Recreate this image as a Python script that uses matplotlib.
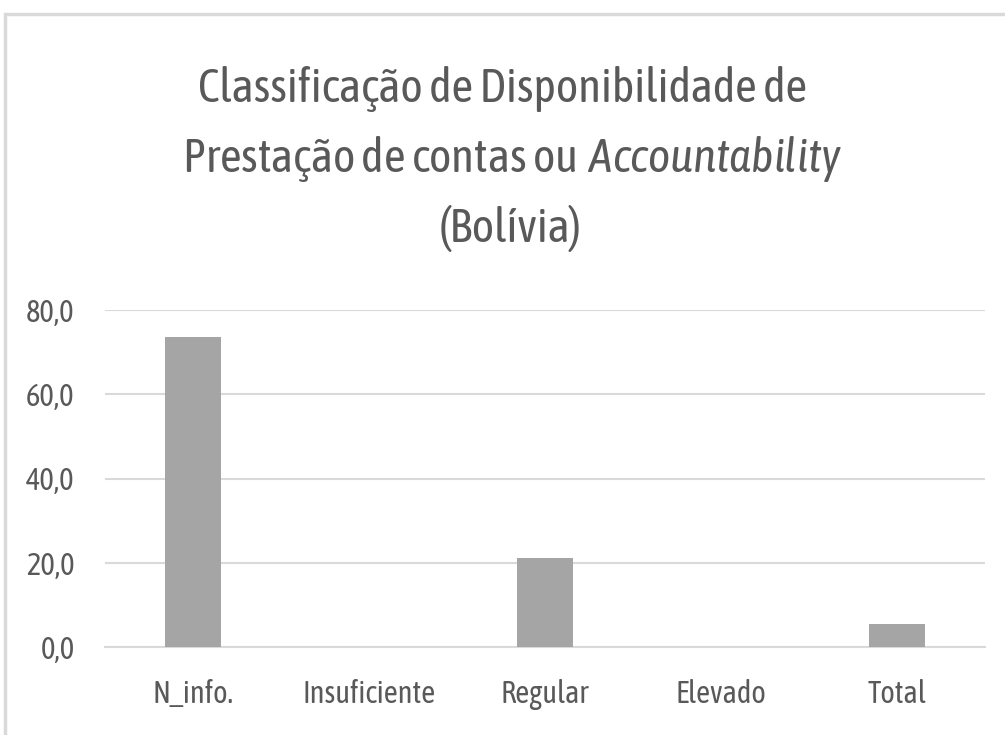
import matplotlib.pyplot as plt
from matplotlib.patches import Rectangle

# DATA
categorias = ["N_info.", "Insuficiente", "Regular", "Elevado", "Total"]
valores = [73.7, 0.0, 21.1, 0.0, 5.5]
yticks = [0, 20, 40, 60, 80]

# STYLE
fonte = "Asap Condensed"
plt.rcParams['font.family'] = [fonte, 'DejaVu Sans']
plt.rcParams['mathtext.fontset'] = 'custom'
plt.rcParams['mathtext.rm'] = fonte
plt.rcParams['mathtext.it'] = fonte + ':italic'
txt_color = "#595959"
bar_color = "#a5a5a5"
grid_color = "#d9d9d9"

fig = plt.figure(figsize=(10.05, 7.35), dpi=100)
ax = fig.add_axes([105/1005, 88/735, 880/1005, 337/735])

x = list(range(len(categorias)))
ax.bar(x, valores, width=0.32, color=bar_color, zorder=3)

ax.set_xlim(-0.5, len(categorias) - 0.5)
ax.set_ylim(0, 80)
ax.set_yticks(yticks)
ax.set_yticklabels([f"{v:.1f}".replace(".", ",") for v in yticks])
ax.set_xticks(x)
ax.set_xticklabels(categorias)

ax.tick_params(axis="y", length=0, pad=22, labelsize=22, labelcolor=txt_color)
ax.tick_params(axis="x", length=0, pad=23, labelsize=22, labelcolor=txt_color)
ax.grid(axis="y", color=grid_color, linewidth=1.5, zorder=0)
for s in ["top", "right", "left"]:
    ax.spines[s].set_visible(False)
ax.spines["bottom"].set_color(grid_color)
ax.spines["bottom"].set_linewidth(1.5)

# TITLE (three lines, second with italic word)
fig.text(0.5, 1 - 102/735, "Classificação de Disponibilidade de",
         ha="center", va="baseline", fontsize=34, color=txt_color)
fig.text(512/1005, 1 - 172/735, "Prestação de contas ou$\\ \\mathit{Accountability}$",
         ha="center", va="baseline", fontsize=34, color=txt_color)
fig.text(510/1005, 1 - 242/735, "(Bolívia)",
         ha="center", va="baseline", fontsize=34, color=txt_color)

# chart border
fig.patches.append(Rectangle((4.5/1005, -0.1), 1.2, 1 - 14/735 + 0.1,
                             transform=fig.transFigure, fill=False,
                             edgecolor=grid_color, linewidth=2.5))

fig.savefig("out.png", dpi=100)
